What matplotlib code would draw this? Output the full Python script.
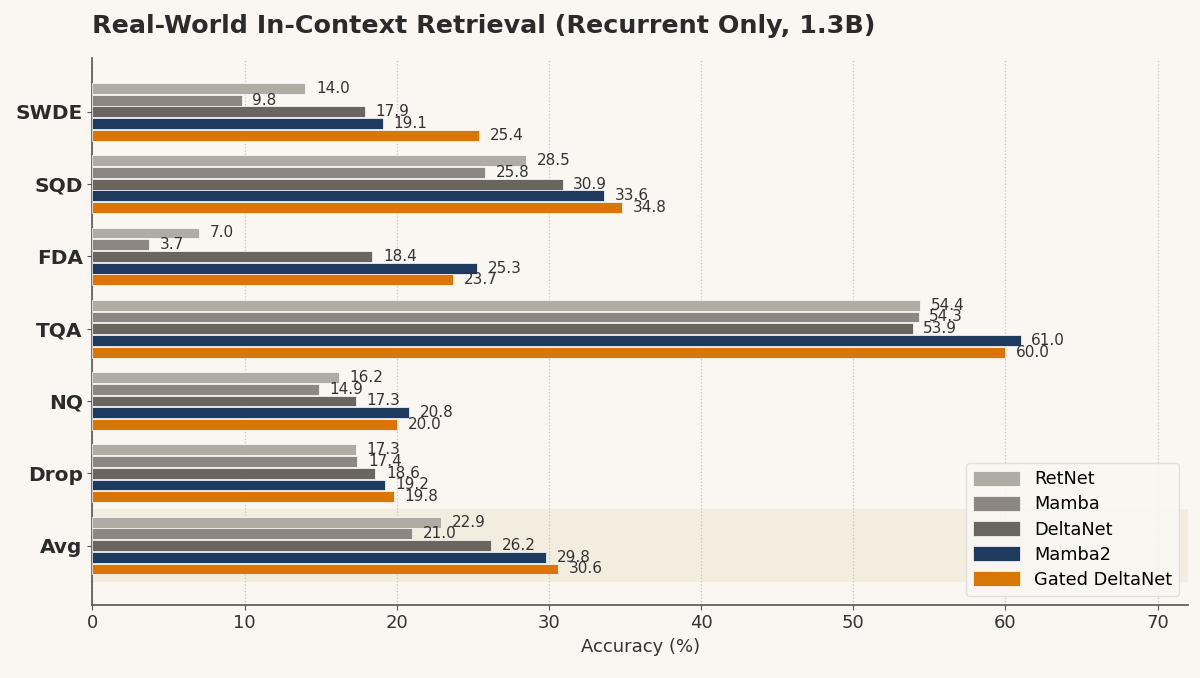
import numpy as np
import matplotlib.pyplot as plt

categories = ['SWDE', 'SQD', 'FDA', 'TQA', 'NQ', 'Drop', 'Avg']
models = ['RetNet', 'Mamba', 'DeltaNet', 'Mamba2', 'Gated DeltaNet']
retnet = [14.0, 28.5, 7.0, 54.4, 16.2, 17.3, 22.9]
mamba = [9.8, 25.8, 3.7, 54.3, 14.9, 17.4, 21.0]
deltanet = [17.9, 30.9, 18.4, 53.9, 17.3, 18.6, 26.2]
mamba2 = [19.1, 33.6, 25.3, 61.0, 20.8, 19.2, 29.8]
gated_deltanet = [25.4, 34.8, 23.7, 60.0, 20.0, 19.8, 30.6]

series = [retnet, mamba, deltanet, mamba2, gated_deltanet]
colors = ['#b0aba5', '#8c8782', '#6b6560', '#1f3a5f', '#d97706']

bg = '#faf7f2'
fig, ax = plt.subplots(figsize=(12, 6.78), dpi=100)
fig.patch.set_facecolor(bg)
ax.set_facecolor(bg)
fig.subplots_adjust(left=0.077, right=0.99, top=0.915, bottom=0.108)

y = np.arange(len(categories))
h = 0.15
step = 0.162

# highlight the average row
ax.axhspan(5.5, 6.5, color='#f3ede0', zorder=0, lw=0)

for i, (vals, name, c) in enumerate(zip(series, models, colors)):
    pos = y + (i - 2) * step
    ax.barh(pos, vals, height=h, color=c, label=name, edgecolor='white',
            linewidth=0.5, zorder=3)
    for p, v in zip(pos, vals):
        ax.text(v + 0.7, p, f'{v:.1f}', va='center', ha='left',
                fontsize=11, color='#333333', zorder=4)

ax.set_yticks(y)
ax.set_yticklabels(categories, fontsize=14.5, fontweight='bold')
ax.set_ylim(6.82, -0.75)
ax.set_xlim(0, 72)
ax.set_xticks(range(0, 71, 10))
ax.tick_params(axis='x', labelsize=13, colors='#555555', labelcolor='#333333')
ax.tick_params(axis='y', colors='#555555', labelcolor='#2b2b2b')
ax.set_xlabel('Accuracy (%)', fontsize=13, color='#333333')

ax.grid(axis='x', linestyle=':', color='#c8c4be', linewidth=0.9, zorder=0)
ax.set_axisbelow(True)
for s in ['top', 'right']:
    ax.spines[s].set_visible(False)
for s in ['left', 'bottom']:
    ax.spines[s].set_color('#555555')
    ax.spines[s].set_linewidth(1.2)

ax.set_title('Real-World In-Context Retrieval (Recurrent Only, 1.3B)',
             loc='left', fontsize=18.3, fontweight='bold', color='#2b2b2b', pad=18)

leg = ax.legend(loc='lower right', fontsize=12.8, frameon=True, facecolor=bg,
                edgecolor='#dddddd', framealpha=0.9, borderpad=0.4,
                handlelength=2.6, handleheight=0.9, labelspacing=0.4)

fig.savefig('out.png', dpi=100, facecolor=bg)
